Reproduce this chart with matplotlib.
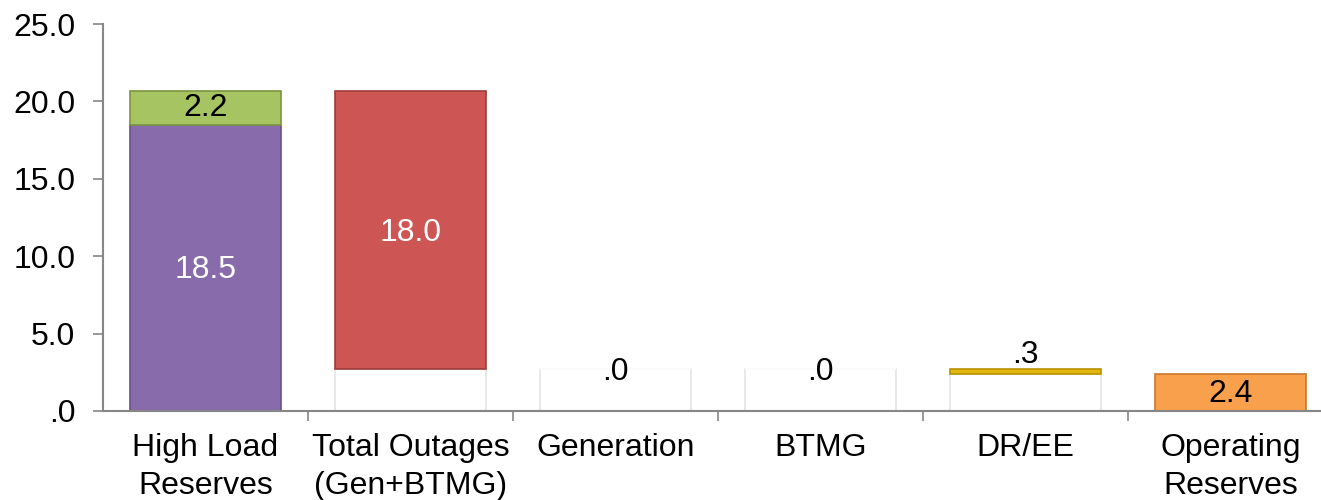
import matplotlib
matplotlib.use('Agg')
import matplotlib.pyplot as plt
import numpy as np

plt.rcParams['font.family'] = ['Liberation Sans', 'DejaVu Sans']

categories = ['High Load\nReserves', 'Total Outages\n(Gen+BTMG)', 'Generation', 'BTMG', 'DR/EE', 'Operating\nReserves']
# waterfall: invisible base + visible step
base = [0.0, 2.7, 2.7, 2.7, 2.4, 0.0]
step = [18.5, 18.0, 0.0, 0.0, 0.3, 2.4]
step_labels = ['18.5', '18.0', '.0', '.0', '.3', '2.4']
step_colors = ['#886BAA', '#CD5654', '#FFFFFF', '#FFFFFF', '#E2B80E', '#F9A04D']
step_edges = ['#6A5287', '#9E3C3A', '#FFFFFF', '#FFFFFF', '#B89200', '#C9772E']
# extra segment stacked on top of the first bar
top_value = 2.2
top_label = '2.2'

fig = plt.figure(figsize=(13.21, 5.0), dpi=100)
ax = fig.add_axes([103 / 1321, 89 / 500, 1218 / 1321, 387 / 500])

x = np.arange(len(categories))
w = 0.737

# hidden base bars (white, faint outline)
for i in range(len(categories)):
    if base[i] > 0:
        ax.bar(x[i], base[i], width=w, color='white', edgecolor='#E4E4E4', linewidth=1.2, zorder=2)

ax.bar(x, step, bottom=base, width=w, color=step_colors, edgecolor=step_edges, linewidth=1.2, zorder=3)
ax.bar(x[0], top_value, bottom=base[0] + step[0], width=w, color='#A6C461', edgecolor='#7A9540',
       linewidth=1.2, zorder=3)

fs = 23
ax.text(x[0], base[0] + step[0] / 2 - 0.15, step_labels[0], ha='center', va='center', fontsize=fs, color='white', zorder=5)
ax.text(x[1], base[1] + step[1] / 2 - 0.2, step_labels[1], ha='center', va='center', fontsize=fs, color='white', zorder=5)
ax.text(x[0], base[0] + step[0] + top_value / 2, top_label, ha='center', va='center', fontsize=fs, color='black', zorder=5)
ax.text(x[2], 2.5, step_labels[2], ha='center', va='center', fontsize=fs, color='black', zorder=5)
ax.text(x[3], 2.5, step_labels[3], ha='center', va='center', fontsize=fs, color='black', zorder=5)
ax.text(x[4], 3.6, step_labels[4], ha='center', va='center', fontsize=fs, color='black', zorder=5)
ax.text(x[5], 1.1, step_labels[5], ha='center', va='center', fontsize=fs, color='black', zorder=5)

ax.set_xlim(-0.5, -0.5 + 1218 / 205)
ax.set_ylim(0, 25)
ax.set_yticks(np.arange(0, 26, 5))
ax.set_yticklabels(['.0', '5.0', '10.0', '15.0', '20.0', '25.0'], fontsize=fs)

ax.set_xticks(x)
ax.set_xticklabels(categories, fontsize=fs, linespacing=1.33)
ax.set_xticks(np.arange(0.5, 5.5, 1.0), minor=True)
ax.tick_params(axis='x', which='major', length=0, pad=16)
ax.tick_params(axis='x', which='minor', length=7, color='#868686', width=1.2)
ax.tick_params(axis='y', length=7, color='#868686', width=1.2, pad=13)

for s in ['top', 'right']:
    ax.spines[s].set_visible(False)
for s in ['left', 'bottom']:
    ax.spines[s].set_color('#868686')
    ax.spines[s].set_linewidth(1.5)
ax.spines['bottom'].set_zorder(6)

fig.savefig('out.png', dpi=100)
